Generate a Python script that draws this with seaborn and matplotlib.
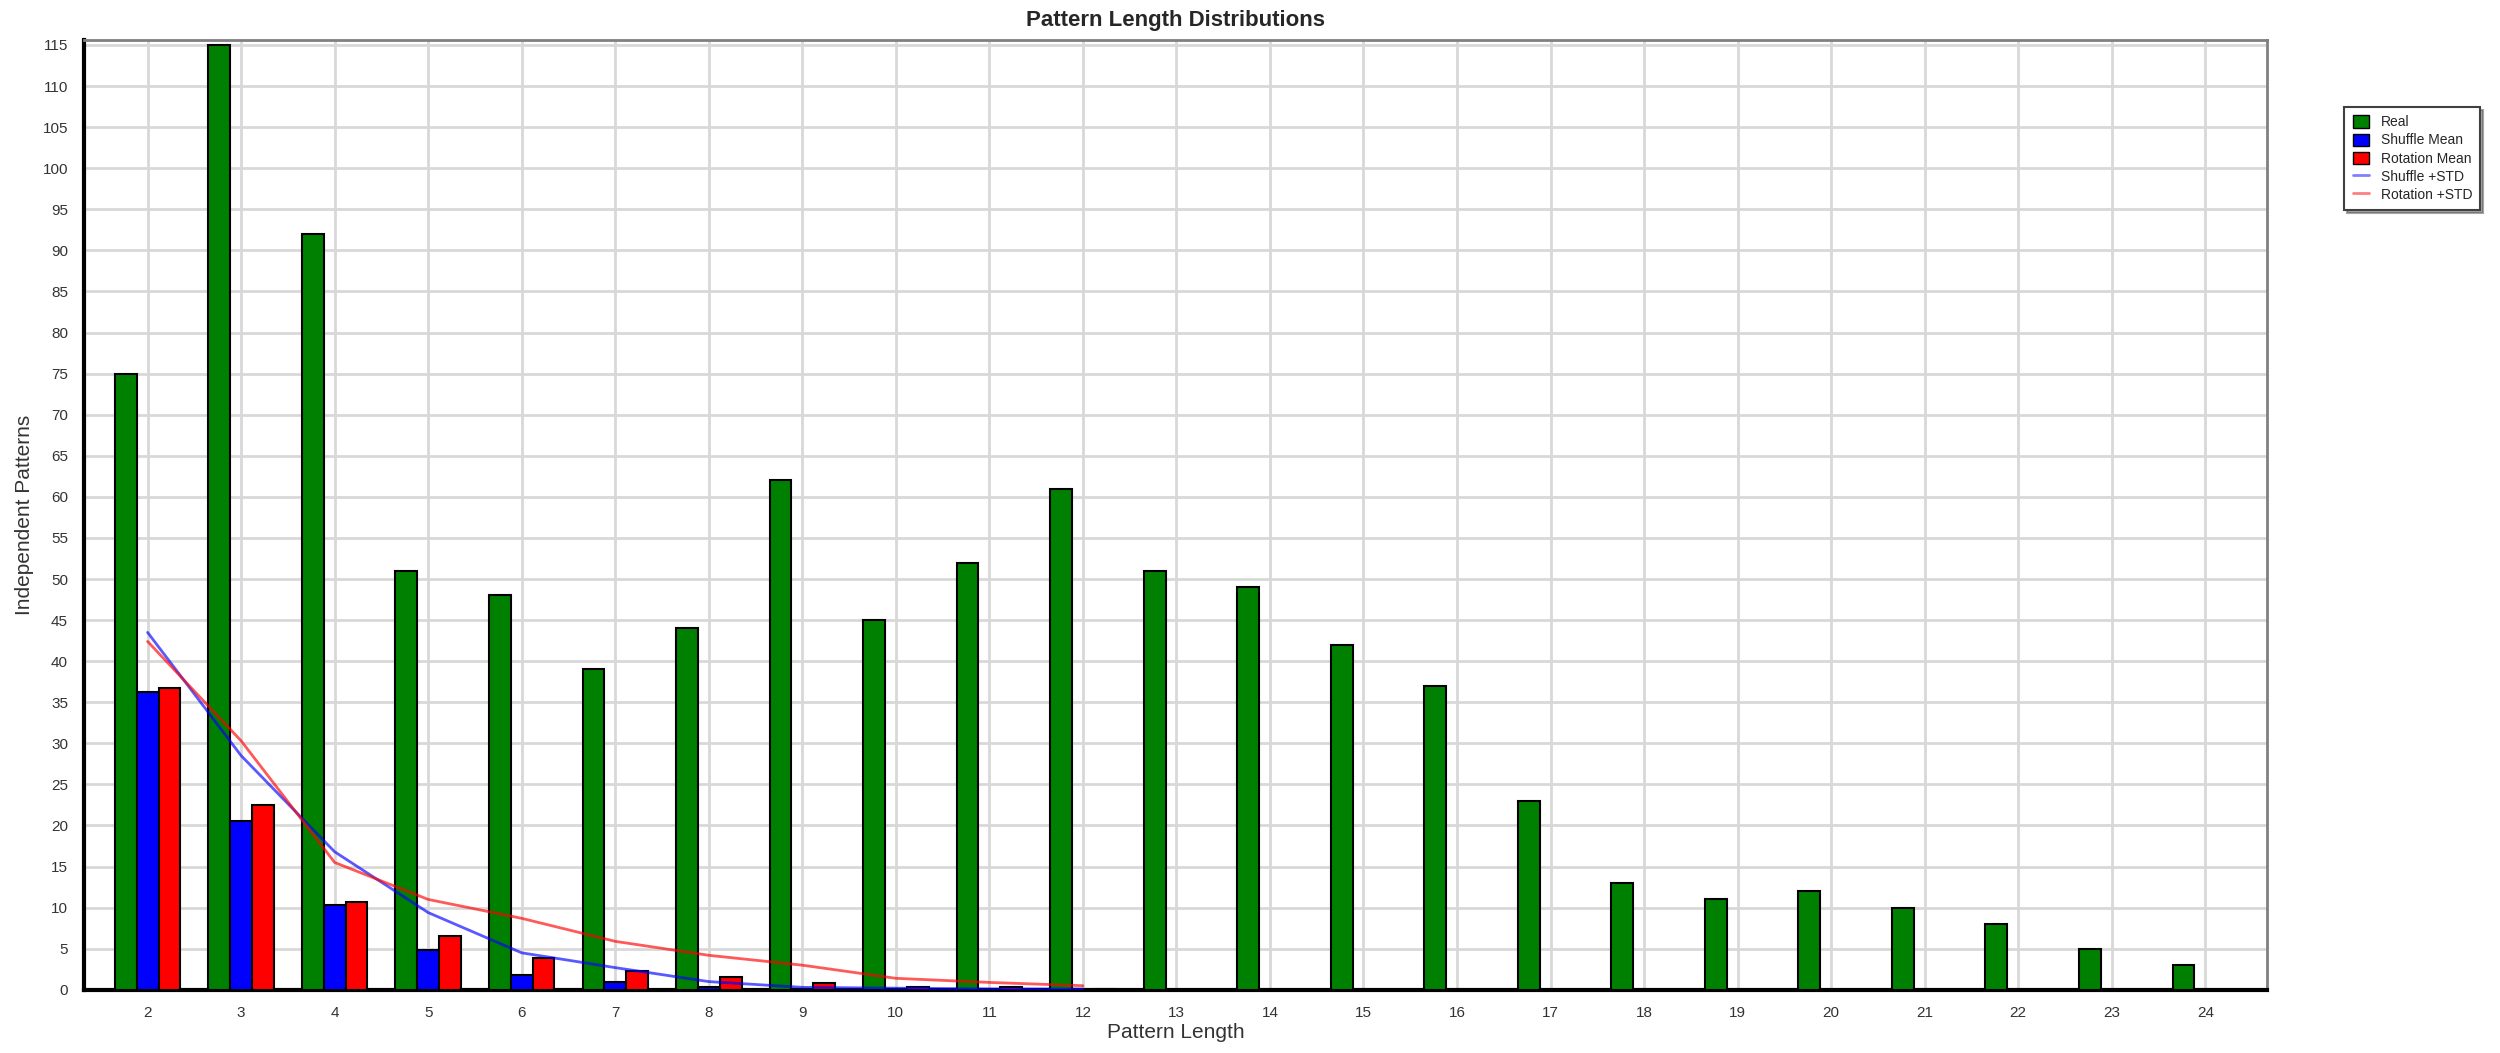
import numpy as np
import pandas as pd
import matplotlib
matplotlib.use("Agg")
import matplotlib.pyplot as plt
from matplotlib.patches import Patch
from matplotlib.lines import Line2D
from matplotlib.ticker import MultipleLocator
import seaborn as sns

# Datos
longitudes = list(range(2, 25))
real = [75, 115, 92, 51, 48, 39, 44, 62, 45, 52, 61, 51, 49, 42, 37, 23, 13, 11, 12, 10, 8, 5, 3]
shuffle_mean = [36.3, 20.5, 10.3, 4.9, 1.8, 0.9, 0.3, 0.15, 0.1, 0.05, 0.03,
                0, 0, 0, 0, 0, 0, 0, 0, 0, 0, 0, 0]
rotation_mean = [36.7, 22.5, 10.7, 6.5, 3.9, 2.3, 1.5, 0.8, 0.3, 0.3, 0.1,
                 0, 0, 0, 0, 0, 0, 0, 0, 0, 0, 0, 0]

std_x = list(range(2, 13))
shuffle_std = [43.5, 28.5, 16.8, 9.4, 4.5, 2.7, 1.0, 0.3, 0.2, 0.1, 0.1]
rotation_std = [42.4, 30.3, 15.5, 11.0, 8.7, 5.9, 4.2, 3.0, 1.4, 0.9, 0.5]

series = ["Real", "Shuffle Mean", "Rotation Mean"]
colores = {"Real": "#008000", "Shuffle Mean": "#0000ff", "Rotation Mean": "#ff0000"}

# Tabla larga para seaborn
df = pd.DataFrame({
    "longitud": longitudes * 3,
    "valor": real + shuffle_mean + rotation_mean,
    "serie": np.repeat(series, len(longitudes)),
})

sns.set_style("white")
plt.rcParams["font.family"] = ["Liberation Sans", "DejaVu Sans"]

fig = plt.figure(figsize=(25, 10.53), dpi=100)
ax = fig.add_axes([0.0336, 0.060, 0.8732, 0.902])

# Barras agrupadas (colores puros, sin desaturar)
sns.barplot(data=df, x="longitud", y="valor", hue="serie", hue_order=series,
            palette=colores, saturation=1, native_scale=True, width=0.7,
            edgecolor="black", linewidth=1.5, legend=False, ax=ax, zorder=3)

# Líneas de media + desviación estándar
sns.lineplot(x=std_x, y=shuffle_std, color="#0000ff", alpha=0.65, linewidth=2, ax=ax, zorder=4)
sns.lineplot(x=std_x, y=rotation_std, color="#ff0000", alpha=0.65, linewidth=2, ax=ax, zorder=4)

ax.set_xlim(1.32, 24.66)
ax.set_ylim(0, 115.6)
ax.xaxis.set_major_locator(MultipleLocator(1))
ax.xaxis.set_minor_locator(MultipleLocator(0.25))
ax.yaxis.set_major_locator(MultipleLocator(5))
ax.yaxis.set_minor_locator(MultipleLocator(1))
ax.grid(True, which="major", color="#d8d8d8", linewidth=2, zorder=0)
ax.set_axisbelow(True)

ax.tick_params(axis="both", which="major", direction="out", length=8, width=1.5,
               labelsize=11, labelcolor="#333333", color="#555555")
ax.tick_params(axis="both", which="minor", direction="out", length=4, width=1.2, color="#555555")

for lado in ["left", "bottom"]:
    ax.spines[lado].set_color("black")
    ax.spines[lado].set_linewidth(3)
for lado in ["top", "right"]:
    ax.spines[lado].set_color("#808080")
    ax.spines[lado].set_linewidth(2)

ax.set_title("Pattern Length Distributions", fontsize=16, fontweight="bold", pad=10)
ax.set_xlabel("Pattern Length", fontsize=15, color="#333333", labelpad=2)
ax.set_ylabel("Independent Patterns", fontsize=15, color="#333333", labelpad=6)

# Leyenda manual
handles = [
    Patch(facecolor="#008000", edgecolor="black", label="Real"),
    Patch(facecolor="#0000ff", edgecolor="black", label="Shuffle Mean"),
    Patch(facecolor="#ff0000", edgecolor="black", label="Rotation Mean"),
    Line2D([], [], color="#0000ff", alpha=0.5, linewidth=2, label="Shuffle +STD"),
    Line2D([], [], color="#ff0000", alpha=0.5, linewidth=2, label="Rotation +STD"),
]
leg = fig.legend(handles=handles, loc="upper left", bbox_to_anchor=(0.935, 0.905),
                 fontsize=10, frameon=True, fancybox=False, shadow=True,
                 handlelength=1.2, handleheight=1.0, borderpad=0.6, labelspacing=0.3)
leg.get_frame().set_edgecolor("#404040")
leg.get_frame().set_linewidth(1.5)

fig.savefig("out.png", dpi=100, facecolor="white")
